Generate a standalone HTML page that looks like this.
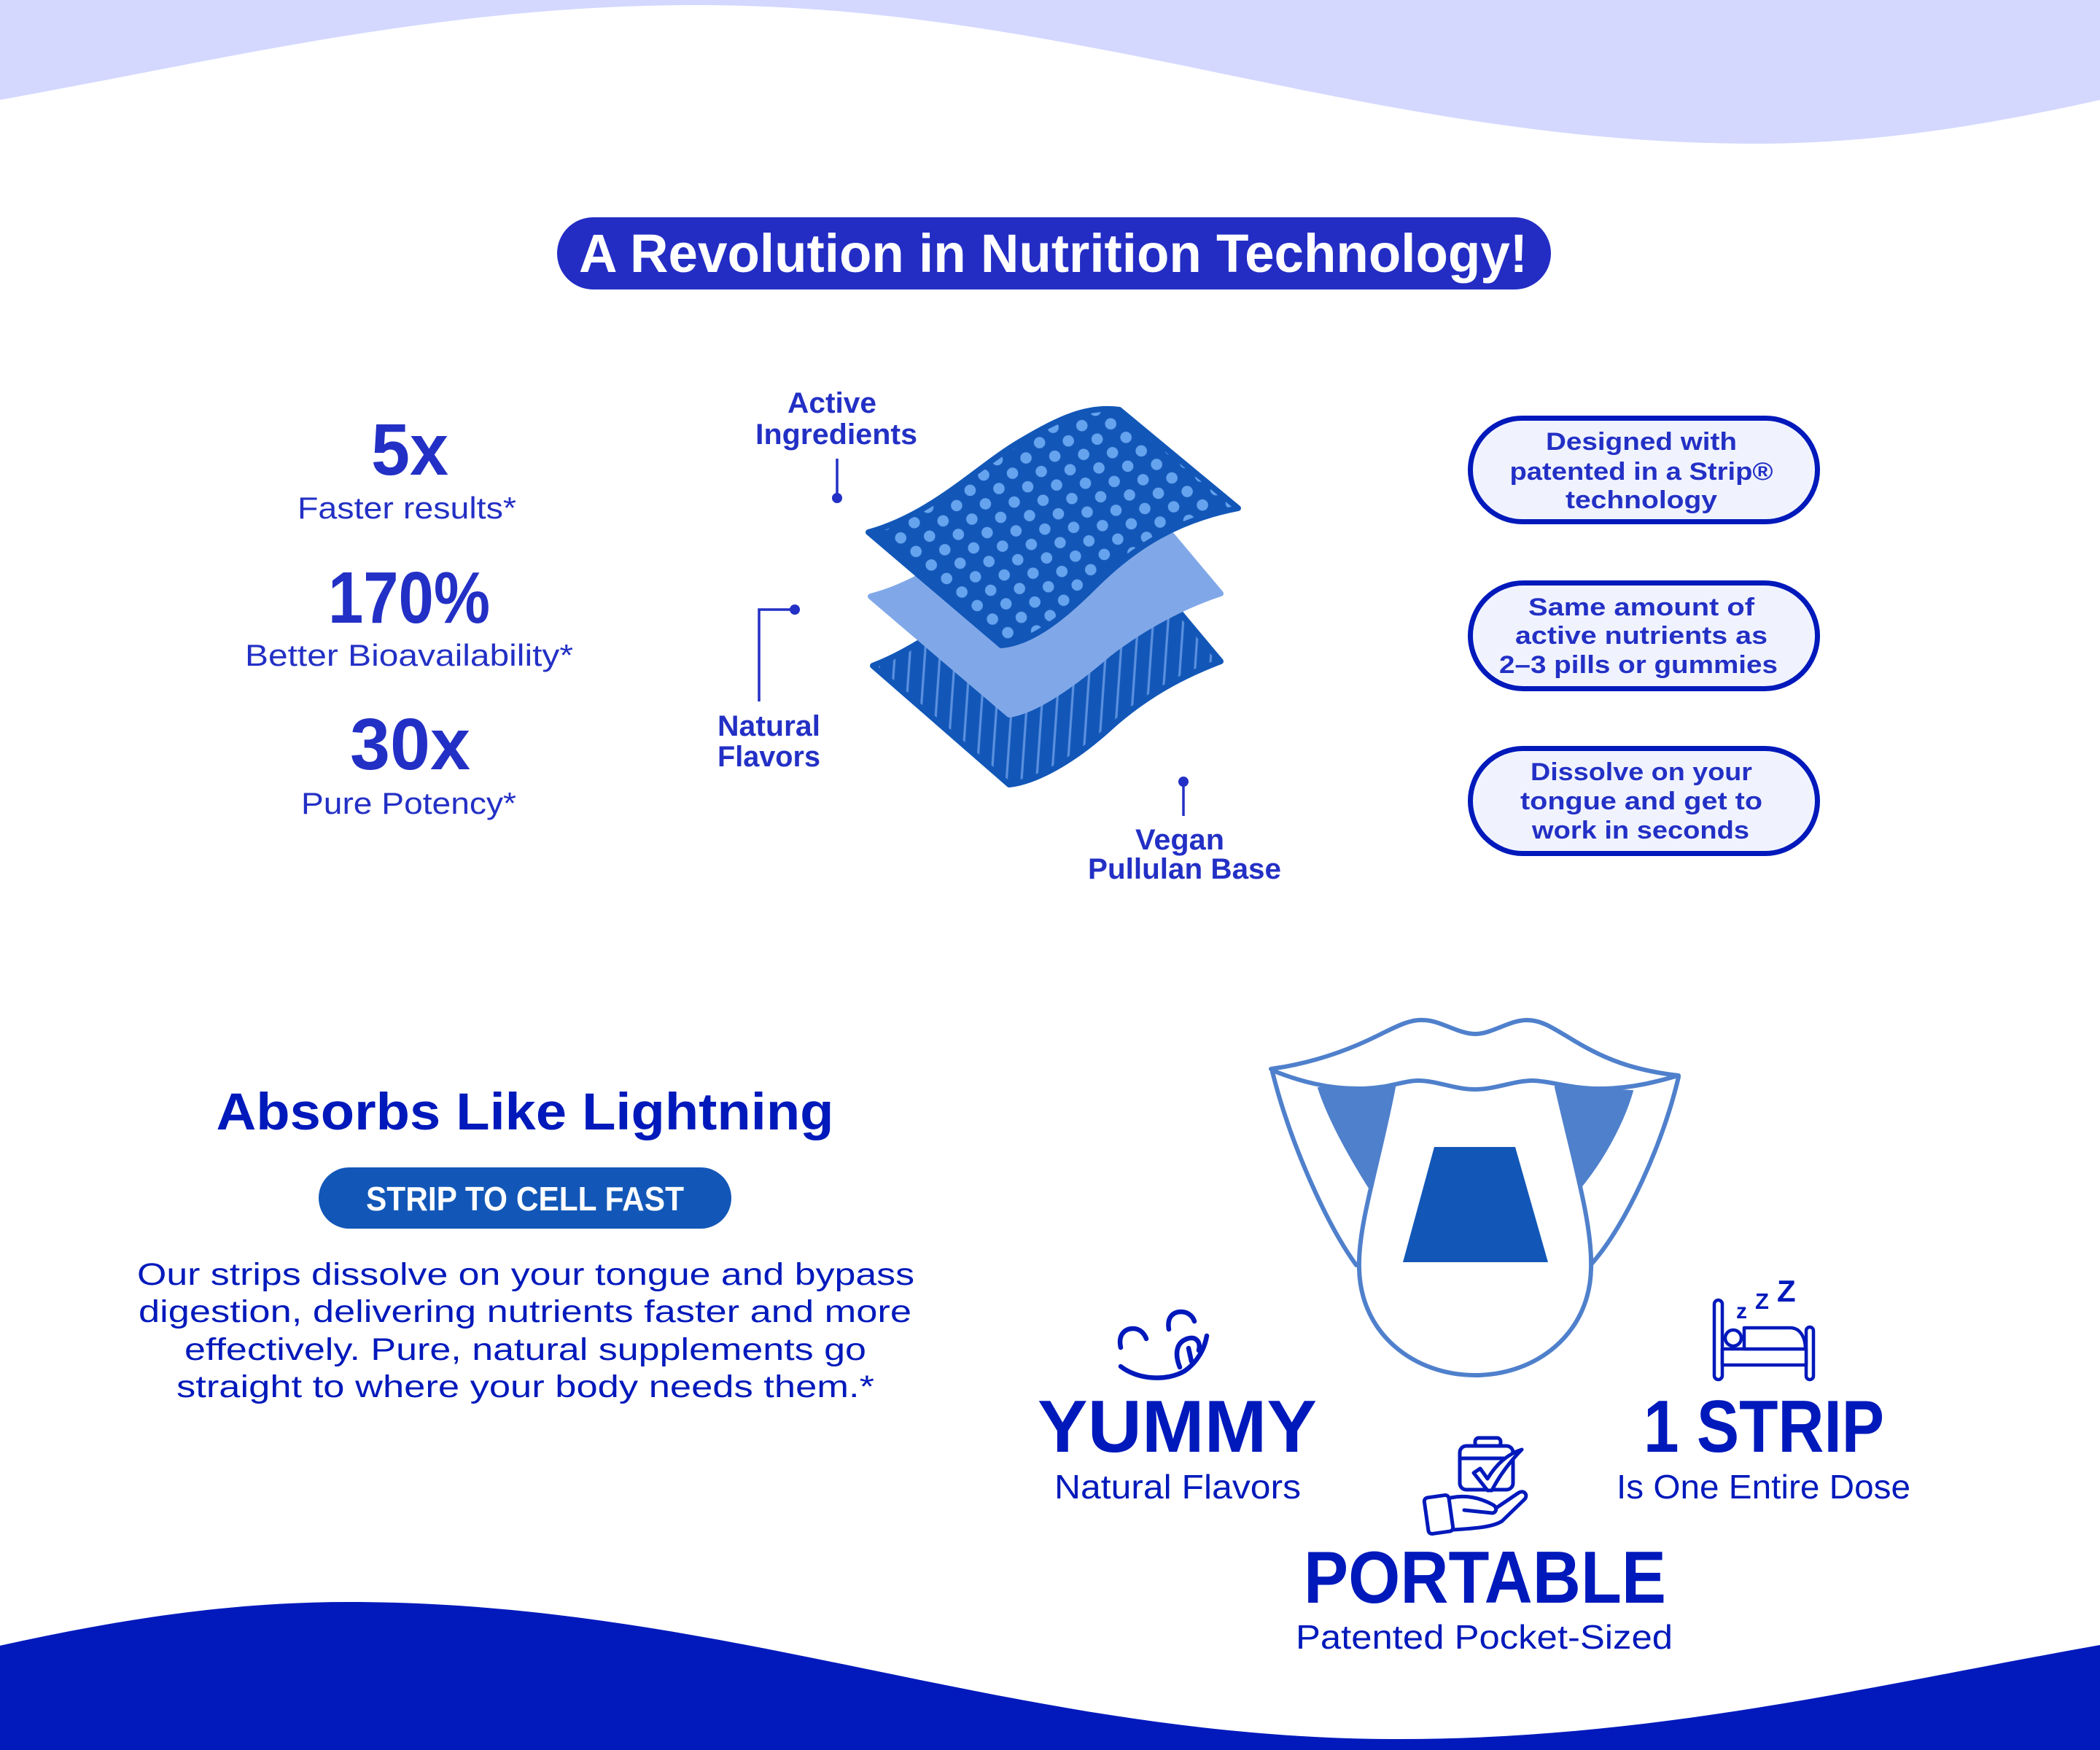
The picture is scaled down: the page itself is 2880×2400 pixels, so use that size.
<!DOCTYPE html>
<html><head><meta charset="utf-8"><style>
html,body{margin:0;padding:0;background:#fff;}
svg{display:block;}
text{font-family:"Liberation Sans",Arial,sans-serif;}
</style></head><body>
<svg width="2880" height="2400" viewBox="0 0 2880 2400" xmlns="http://www.w3.org/2000/svg">
<defs>
<pattern id="dots" patternUnits="userSpaceOnUse" width="28" height="28" patternTransform="rotate(41.5)">
<rect width="28" height="28" fill="#1257b8"/>
<circle cx="14" cy="14" r="7.8" fill="#66a3ee"/>
</pattern>
<pattern id="stripes" patternUnits="userSpaceOnUse" width="20.6" height="100" patternTransform="rotate(4)">
<rect width="20.6" height="100" fill="#1257b8"/>
<rect x="8" width="3.2" height="100" fill="#5b90de"/>
</pattern>
</defs>
<rect width="2880" height="2400" fill="#fff"/>
<!-- top wave -->
<path d="M-585,197 C-24,197 394,7 955,7 C1484,7 1878,197 2407,197 C2860,197 3199,7 3652,7 L3652,-10 L-585,-10 Z" fill="#d4d8ff"/>
<!-- bottom wave -->
<path d="M-773,2385 C-317,2385 22,2197 478,2197 C1003,2197 1394,2385 1919,2385 C2482,2385 2903,2197 3466,2197 L3466,2410 L-773,2410 Z" fill="#021abc"/>

<!-- title pill -->
<rect x="764" y="298" width="1363" height="99" rx="49.5" fill="#232dc4"/>
<text x="1444.5" y="373" font-size="74" font-weight="bold" fill="#fff" text-anchor="middle" textLength="1301" lengthAdjust="spacingAndGlyphs">A Revolution in Nutrition Technology!</text>

<!-- stats -->
<g fill="#2330c5" text-anchor="middle">
<text x="562" y="651" font-size="100" font-weight="bold" textLength="106" lengthAdjust="spacingAndGlyphs">5x</text>
<text x="558" y="711" font-size="42" textLength="300" lengthAdjust="spacingAndGlyphs">Faster results*</text>
<text x="561" y="854" font-size="100" font-weight="bold" textLength="222" lengthAdjust="spacingAndGlyphs">170%</text>
<text x="561" y="913" font-size="42" textLength="450" lengthAdjust="spacingAndGlyphs">Better Bioavailability*</text>
<text x="562.5" y="1055" font-size="100" font-weight="bold" textLength="165" lengthAdjust="spacingAndGlyphs">30x</text>
<text x="560.5" y="1116" font-size="42" textLength="295" lengthAdjust="spacingAndGlyphs">Pure Potency*</text>
</g>

<!-- layers -->
<path d="M1197,913 C1270,885 1330,830 1400,790 C1450,762 1496,745 1541,748 L1674,907 C1640,920 1580,945 1520,1000 C1470,1045 1420,1072 1384,1076 Z" fill="url(#stripes)" stroke="#1257b8" stroke-width="8" stroke-linejoin="round"/>
<path d="M1194,818 C1283,795 1343,730 1403,695 C1453,665 1493,648 1538,652 L1674,814 C1640,825 1580,850 1520,897 C1470,940 1420,975 1384,980 Z" fill="#80a8e8" stroke="#80a8e8" stroke-width="8" stroke-linejoin="round"/>
<path d="M1191,730 C1280,705 1340,640 1400,605 C1450,575 1490,556 1535,562 L1698,697 C1620,712 1560,745 1500,805 C1450,855 1410,882 1373,885 Z" fill="url(#dots)" stroke="#1257b8" stroke-width="8" stroke-linejoin="round"/>

<!-- connectors -->
<g stroke="#2330c5" stroke-width="3.5" fill="none">
<line x1="1148" y1="629" x2="1148" y2="683"/>
<polyline points="1090,836 1041,836 1041,962"/>
<line x1="1623" y1="1072" x2="1623" y2="1119"/>
</g>
<g fill="#2330c5">
<circle cx="1148" cy="683" r="7"/>
<circle cx="1090" cy="836" r="7"/>
<circle cx="1623" cy="1072" r="7"/>
</g>
<g fill="#2330c5" font-weight="bold" font-size="40">
<text x="1141" y="566" text-anchor="middle" textLength="122" lengthAdjust="spacingAndGlyphs">Active</text>
<text x="1147" y="609" text-anchor="middle" textLength="222" lengthAdjust="spacingAndGlyphs">Ingredients</text>
<text x="984" y="1009" textLength="141" lengthAdjust="spacingAndGlyphs">Natural</text>
<text x="984" y="1051" textLength="141" lengthAdjust="spacingAndGlyphs">Flavors</text>
<text x="1618" y="1165" text-anchor="middle" textLength="122" lengthAdjust="spacingAndGlyphs">Vegan</text>
<text x="1624.5" y="1205" text-anchor="middle" textLength="265" lengthAdjust="spacingAndGlyphs">Pullulan Base</text>
</g>

<!-- right pills -->
<g fill="#f0f3fe" stroke="#0019bb" stroke-width="7">
<rect x="2016.5" y="573.5" width="476" height="142" rx="71"/>
<rect x="2016.5" y="799.5" width="476" height="145" rx="72.5"/>
<rect x="2016.5" y="1026.5" width="476" height="144" rx="72"/>
</g>
<g fill="#2330c5" font-weight="bold" font-size="34" text-anchor="middle">
<text x="2251" y="617" textLength="262" lengthAdjust="spacingAndGlyphs">Designed with</text>
<text x="2251" y="658" textLength="361" lengthAdjust="spacingAndGlyphs">patented in a Strip®</text>
<text x="2251" y="697" textLength="208" lengthAdjust="spacingAndGlyphs">technology</text>
<text x="2251" y="844" textLength="310" lengthAdjust="spacingAndGlyphs">Same amount of</text>
<text x="2251" y="883" textLength="346" lengthAdjust="spacingAndGlyphs">active nutrients as</text>
<text x="2247" y="923" textLength="382" lengthAdjust="spacingAndGlyphs">2–3 pills or gummies</text>
<text x="2251" y="1070" textLength="304" lengthAdjust="spacingAndGlyphs">Dissolve on your</text>
<text x="2251" y="1110" textLength="332" lengthAdjust="spacingAndGlyphs">tongue and get to</text>
<text x="2250" y="1150" textLength="298" lengthAdjust="spacingAndGlyphs">work in seconds</text>
</g>

<!-- bottom left -->
<text x="720" y="1549" font-size="71" font-weight="bold" fill="#0019bb" text-anchor="middle" textLength="847" lengthAdjust="spacingAndGlyphs">Absorbs Like Lightning</text>
<rect x="437" y="1601" width="566" height="84" rx="42" fill="#1257b8"/>
<text x="720" y="1660" font-size="46" font-weight="bold" fill="#fff" text-anchor="middle" textLength="436" lengthAdjust="spacingAndGlyphs">STRIP TO CELL FAST</text>
<g fill="#0019bb" font-size="43" text-anchor="middle">
<text x="721" y="1762" textLength="1066" lengthAdjust="spacingAndGlyphs">Our strips dissolve on your tongue and bypass</text>
<text x="720" y="1813" textLength="1060" lengthAdjust="spacingAndGlyphs">digestion, delivering nutrients faster and more</text>
<text x="720.5" y="1865" textLength="935" lengthAdjust="spacingAndGlyphs">effectively. Pure, natural supplements go</text>
<text x="720.5" y="1916" textLength="957" lengthAdjust="spacingAndGlyphs">straight to where your body needs them.*</text>
</g>

<!-- tongue illustration -->
<g stroke="#4f80cc" stroke-width="6" stroke-linejoin="round" stroke-linecap="round">
<path d="M1745,1470 C1770,1570 1820,1680 1860,1735" fill="none"/>
<path d="M2302,1477 C2280,1570 2230,1680 2183,1733" fill="none"/>
<path d="M1808,1492 L1911,1490 L1877,1628 C1850,1585 1822,1535 1808,1492 Z" fill="#4f80cc" stroke-width="2"/>
<path d="M2134,1490 L2239,1496 C2225,1545 2195,1595 2168,1628 Z" fill="#4f80cc" stroke-width="2"/>
<path d="M1911,1491 C1890,1600 1862,1680 1864,1740 C1866,1830 1940,1886 2023,1886 C2106,1886 2180,1830 2182,1740 C2184,1680 2160,1600 2135,1491" fill="#fff"/>
<path d="M1743,1466 C1800,1458 1850,1440 1890,1420 C1920,1405 1935,1398 1952,1399 C1975,1399 2000,1418 2023,1418 C2046,1418 2070,1399 2094,1399 C2115,1399 2130,1410 2160,1428 C2200,1452 2240,1468 2302,1475 C2270,1484 2240,1492 2200,1493 C2155,1494 2125,1482 2102,1482 C2076,1482 2051,1494 2023,1494 C1995,1494 1970,1482 1945,1482 C1925,1482 1905,1492 1870,1493 C1820,1494 1780,1482 1745,1468 Z" fill="#fff"/>
</g>
<polygon points="1967,1573 2078,1573 2123,1731 1924,1731" fill="#1257b8"/>

<!-- yummy icon -->
<g stroke="#0019bb" stroke-width="6.5" fill="none" stroke-linecap="round" stroke-linejoin="round">
<path d="M1537,1848 C1533,1830 1543,1822 1554,1822 C1564,1822 1570,1830 1572,1836"/>
<path d="M1603,1823 C1600,1805 1610,1799 1620,1799 C1630,1799 1636,1806 1638,1812"/>
<path d="M1537,1874 C1560,1892 1600,1895 1625,1880 C1642,1868 1652,1850 1655,1832"/>
<path d="M1618,1875 C1612,1860 1611,1842 1628,1836 C1640,1832 1647,1840 1644,1852"/>
<path d="M1630,1849 L1634,1867"/>
</g>
<g fill="#0019bb" text-anchor="middle">
<text x="1614.5" y="1991" font-size="101" font-weight="bold" textLength="383" lengthAdjust="spacingAndGlyphs">YUMMY</text>
<text x="1615" y="2055" font-size="46" textLength="338" lengthAdjust="spacingAndGlyphs">Natural Flavors</text>
<text x="2419" y="1991" font-size="101" font-weight="bold" textLength="330" lengthAdjust="spacingAndGlyphs">1 STRIP</text>
<text x="2418.5" y="2055" font-size="46" textLength="403" lengthAdjust="spacingAndGlyphs">Is One Entire Dose</text>
<text x="2036.5" y="2198" font-size="101" font-weight="bold" textLength="497" lengthAdjust="spacingAndGlyphs">PORTABLE</text>
<text x="2035.5" y="2261" font-size="46" textLength="517" lengthAdjust="spacingAndGlyphs">Patented Pocket-Sized</text>
</g>

<!-- bed icon -->
<g stroke="#0019bb" stroke-width="4.5" fill="#fff" stroke-linejoin="round">
<rect x="2351" y="1783" width="11" height="109" rx="5.5"/>
<rect x="2477" y="1820" width="10" height="72" rx="5"/>
<rect x="2362" y="1850" width="115" height="22"/>
<path d="M2392,1850 L2392,1821 L2455,1821 C2470,1821 2476,1836 2476,1850 Z"/>
<circle cx="2377" cy="1835" r="11"/>
</g>
<g fill="#0019bb" font-weight="bold">
<text x="2381" y="1808" font-size="30">z</text>
<text x="2407" y="1795" font-size="31">Z</text>
<text x="2437" y="1785" font-size="42">Z</text>
</g>

<!-- portable icon -->
<g stroke="#0019bb" stroke-width="5" fill="none" stroke-linejoin="round" stroke-linecap="round">
<rect x="2023" y="1972" width="35" height="12" rx="5"/>
<rect x="2002" y="1983" width="73" height="60" rx="9" fill="#fff"/>
<line x1="2002" y1="2000" x2="2062" y2="2000"/>
<path d="M2021,2020 L2030,2014 L2040,2028 C2052,2008 2068,1994 2087,1988 C2072,2003 2056,2024 2046,2044 L2040,2044 Z" fill="#fff"/>
<rect x="1956" y="2052" width="34" height="50" rx="5" transform="rotate(-8 1973 2077)" fill="#fff"/>
<path d="M1990,2054 C2010,2050 2030,2054 2048,2064 C2054,2068 2052,2075 2046,2075 L2008,2071"/>
<path d="M2052,2068 L2083,2047 C2090,2043 2096,2050 2091,2056 L2060,2086 C2048,2094 2025,2096 1993,2098"/>
</g>
</svg>
</body></html>
